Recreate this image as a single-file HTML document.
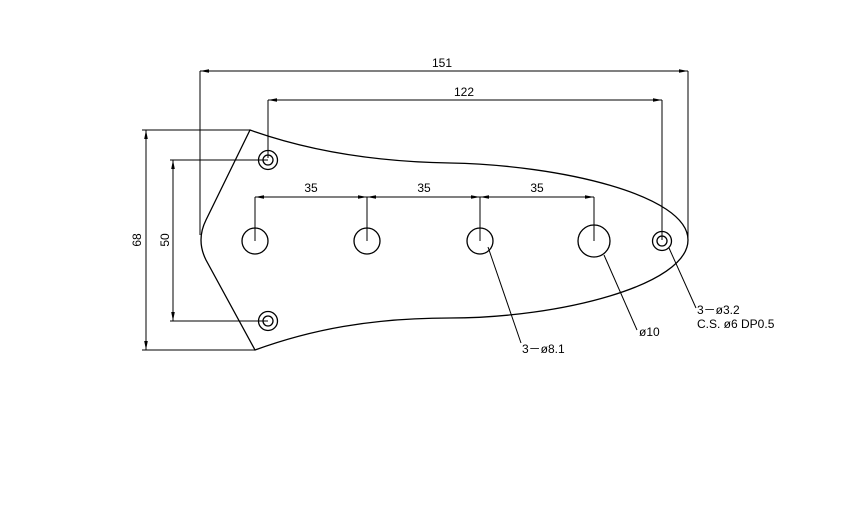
<!DOCTYPE html>
<html><head><style>body{margin:0;background:#fff}svg{display:block}text{font-family:"Liberation Sans",sans-serif;font-size:12px;fill:#000}</style></head><body>
<svg width="852" height="530" viewBox="0 0 852 530" xmlns="http://www.w3.org/2000/svg">
<defs><marker id="a" viewBox="0 0 10 4" refX="10" refY="2" markerWidth="9" markerHeight="4" markerUnits="userSpaceOnUse" orient="auto-start-reverse"><path d="M0,0L10,2L0,4z" fill="#000"/></marker></defs>
<g stroke="#000" stroke-width="1.3" fill="none">
<path d="M250,130 C320,155 390,162 450,163 C560,165 688,195 688,240 C688,285 560,318 450,318 C370,318 310,330 255,350 L206,260 Q196,240 206,220 Z"/>
<circle cx="268" cy="160" r="9.5"/><circle cx="268" cy="160" r="5"/>
<circle cx="268" cy="321" r="9.5"/><circle cx="268" cy="321" r="5"/>
<circle cx="662" cy="241" r="9.5"/><circle cx="662" cy="241" r="5"/>
<circle cx="255" cy="241" r="13"/><circle cx="367" cy="241" r="13"/><circle cx="480" cy="241" r="13"/><circle cx="594" cy="241" r="16"/>
</g>
<g stroke="#000" stroke-width="1" fill="none">
<line x1="200" y1="71" x2="200" y2="235"/><line x1="688" y1="71" x2="688" y2="240"/>
<line x1="200" y1="71" x2="688" y2="71" marker-start="url(#a)" marker-end="url(#a)"/>
<line x1="268" y1="100" x2="268" y2="158"/><line x1="662" y1="100" x2="662" y2="240"/>
<line x1="268" y1="100" x2="662" y2="100" marker-start="url(#a)" marker-end="url(#a)"/>
<line x1="255" y1="197" x2="255" y2="241"/><line x1="367" y1="197" x2="367" y2="241"/><line x1="480" y1="197" x2="480" y2="241"/><line x1="594" y1="197" x2="594" y2="241"/>
<line x1="255" y1="197" x2="367" y2="197" marker-start="url(#a)" marker-end="url(#a)"/>
<line x1="367" y1="197" x2="480" y2="197" marker-start="url(#a)" marker-end="url(#a)"/>
<line x1="480" y1="197" x2="594" y2="197" marker-start="url(#a)" marker-end="url(#a)"/>
<line x1="142" y1="130" x2="250" y2="130"/><line x1="142" y1="350" x2="255" y2="350"/>
<line x1="146" y1="130" x2="146" y2="350" marker-start="url(#a)" marker-end="url(#a)"/>
<line x1="170" y1="160" x2="268" y2="160"/><line x1="170" y1="321" x2="268" y2="321"/>
<line x1="173" y1="160" x2="173" y2="321" marker-start="url(#a)" marker-end="url(#a)"/>
<polyline points="488,247 521,343"/>
<polyline points="604,255 637,330"/>
<polyline points="669,248 696,308"/>
</g>
<text x="442" y="67" text-anchor="middle">151</text>
<text x="464" y="96" text-anchor="middle">122</text>
<text x="311" y="192" text-anchor="middle">35</text>
<text x="424" y="192" text-anchor="middle">35</text>
<text x="537" y="192" text-anchor="middle">35</text>
<text transform="translate(141,240) rotate(-90)" text-anchor="middle">68</text>
<text transform="translate(169,240) rotate(-90)" text-anchor="middle">50</text>
<text x="522" y="353">3－ø8.1</text>
<text x="639" y="336">ø10</text>
<text x="697" y="314">3－ø3.2</text>
<text x="697" y="328">C.S.  ø6 DP0.5</text>
</svg>
</body></html>
